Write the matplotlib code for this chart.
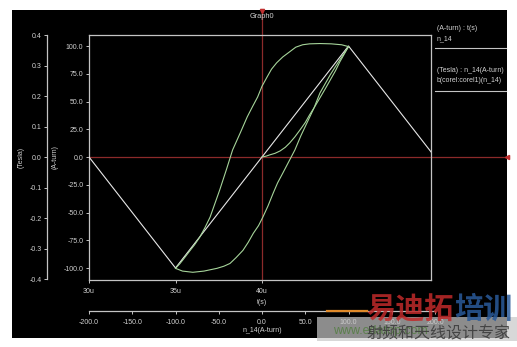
import matplotlib
matplotlib.use("Agg")
import matplotlib.pyplot as plt
from matplotlib.patches import Rectangle
from matplotlib.lines import Line2D

# ---------------- data ----------------
t_us = [30, 35, 45, 50]
aturn = [0, -100, 100, 0]

init_h = [0, 5, 9, 15, 21, 27, 32, 38, 44, 50, 55, 61, 67, 73, 79, 85, 90, 95, 100]
init_b = [0, 0.003, 0.007, 0.012, 0.02, 0.032, 0.046, 0.066, 0.089, 0.113, 0.138,
          0.165, 0.194, 0.223, 0.253, 0.283, 0.312, 0.337, 0.362]

desc_h = [100, 92, 80, 67, 55, 47, 39, 32, 24, 17, 11, 6, 0, -5, -11, -17, -25, -34,
          -41, -49, -55, -60, -66, -72, -78, -83, -90, -95, -100]
desc_b = [0.362, 0.368, 0.371, 0.372, 0.371, 0.368, 0.36, 0.345, 0.328, 0.309, 0.288,
          0.263, 0.232, 0.197, 0.165, 0.132, 0.08, 0.023, -0.04, -0.109, -0.157, -0.197,
          -0.232, -0.263, -0.288, -0.306, -0.332, -0.35, -0.365]

asc_h = [-100, -92, -80, -67, -52, -44, -37, -30, -22, -16, -10, -4, 1, 7, 13, 18, 24,
         31, 38, 45, 52, 60, 67, 73, 79, 85, 90, 95, 100]
asc_b = [-0.365, -0.374, -0.378, -0.374, -0.365, -0.358, -0.349, -0.33, -0.306, -0.28,
         -0.25, -0.225, -0.197, -0.16, -0.118, -0.085, -0.053, -0.015, 0.023, 0.07,
         0.112, 0.16, 0.21, 0.24, 0.27, 0.297, 0.319, 0.34, 0.362]

t_ticks = [30, 35, 40]
t_labels = ["30u", "35u", "40u"]
a_ticks = [100, 75, 50, 25, 0, -25, -50, -75, -100]
a_labels = ["100.0", "75.0", "50.0", "25.0", "0.0", "-25.0", "-50.0", "-75.0", "-100.0"]
b_ticks = [0.4, 0.3, 0.2, 0.1, 0.0, -0.1, -0.2, -0.3, -0.4]
b_labels = ["0.4", "0.3", "0.2", "0.1", "0.0", "-0.1", "-0.2", "-0.3", "-0.4"]
h_ticks = [-200, -150, -100, -50, 0, 50, 100, 150, 200]
h_labels = ["-200.0", "-150.0", "-100.0", "-50.0", "0.0", "50.0", "100.0", "150.0", "200.0"]

# ---------------- style ----------------
W, H = 517, 347
plt.rcParams['font.family'] = ['Liberation Sans', 'DejaVu Sans']
TXT = '#d2d2d2'
SP = '#c4c4c4'
RED = '#8c2a2a'
GRN = '#a6d49a'
WHT = '#e8e8e8'
FS = 5.0

def fx(x):
    return x / W

def fy(y):
    return 1 - y / H

fig = plt.figure(figsize=(W / 100, H / 100), dpi=100)
fig.patch.set_facecolor('white')
fig.add_artist(Rectangle((fx(12), fy(338)), (507 - 12) / W, (338 - 10) / H,
                         transform=fig.transFigure, facecolor='black',
                         edgecolor='none', zorder=-10))

# main axes: A-turn vs t
ax = fig.add_axes([fx(89), fy(280), (431 - 89) / W, (280 - 35) / H])
ax.set_facecolor('none')
ax.set_xlim(30, 30 + 342 / 17.3)
ax.set_ylim(-123 / 1.11, 122 / 1.11)
for s in ax.spines.values():
    s.set_color(SP)
    s.set_linewidth(0.9)
ax.set_xticks(t_ticks, t_labels)
ax.set_yticks(a_ticks, a_labels)
ax.tick_params(colors=SP, labelcolor=TXT, labelsize=FS, length=2.5, width=0.7,
               direction='out', pad=1.5)
ax.tick_params(axis='x', pad=3)
ax.plot(t_us, aturn, color=WHT, lw=0.8, zorder=3)

# red crosshair
ax.axhline(0, xmin=0, xmax=(507 - 89) / 342, color=RED, lw=0.9, clip_on=False, zorder=2)
ax.axvline(40, ymin=0, ymax=(280 - 10) / 245, color=RED, lw=0.9, clip_on=False, zorder=2)

# second axes: Tesla vs n_14
ax2 = fig.add_axes([fx(89), fy(280), (435 - 89) / W, (280 - 35) / H])
ax2.set_facecolor('none')
ax2.set_xlim(-200, 200)
ax2.set_ylim(-123 / 305, 122 / 305)
for k in ['top', 'right']:
    ax2.spines[k].set_visible(False)
ax2.spines['left'].set_position(('outward', 42 * 0.72))
ax2.spines['bottom'].set_position(('outward', 31 * 0.72))
ax2.spines['left'].set_bounds(-0.4, 0.4)
ax2.spines['bottom'].set_bounds(-200, 200)
for k in ['left', 'bottom']:
    ax2.spines[k].set_color(SP)
    ax2.spines[k].set_linewidth(0.9)
ax2.set_xticks(h_ticks, h_labels)
ax2.set_yticks(b_ticks, b_labels)
ax2.tick_params(colors=SP, labelcolor=TXT, labelsize=FS, length=2.5, width=0.7,
                direction='out', pad=1.5)
ax2.tick_params(axis='x', pad=3)
ax2.plot(init_h, init_b, color=GRN, lw=0.8)
ax2.plot(desc_h, desc_b, color=GRN, lw=0.8)
ax2.plot(asc_h, asc_b, color=GRN, lw=0.8)

# labels
fig.text(fx(262), fy(302), "t(s)", color=TXT, fontsize=FS, ha='center', va='center')
fig.text(fx(262), fy(331), "n_14(A-turn)", color=TXT, fontsize=FS, ha='center', va='center')
fig.text(fx(21), fy(157), "(Tesla)", color=TXT, fontsize=FS, ha='center', va='center', rotation=90)
fig.text(fx(55), fy(157), "(A-turn)", color=TXT, fontsize=FS, ha='center', va='center', rotation=90)
fig.text(fx(262), fy(17), "Graph0", color=TXT, fontsize=5.3, ha='center', va='center')

# crosshair markers
fig.add_artist(Line2D([fx(262)], [fy(11)], marker='v', markersize=3, color='#c03030',
                      transform=fig.transFigure, linestyle='none'))
fig.add_artist(Line2D([fx(507)], [fy(157)], marker='<', markersize=3, color='#c03030',
                      transform=fig.transFigure, linestyle='none'))

# legend panel
fig.text(fx(437), fy(28), "(A-turn) : t(s)", color=TXT, fontsize=FS, ha='left', va='center')
fig.text(fx(437), fy(39), "n_14", color=TXT, fontsize=FS, ha='left', va='center')
fig.add_artist(Line2D([fx(435), fx(506)], [fy(48), fy(48)], color=SP, lw=0.8,
                      transform=fig.transFigure))
fig.text(fx(437), fy(71), "(Tesla) : n_14(A-turn)", color=TXT, fontsize=FS, ha='left', va='center')
fig.text(fx(437), fy(81), "b(corel:corel1)(n_14)", color=TXT, fontsize=FS, ha='left', va='center')
fig.add_artist(Line2D([fx(435), fx(506)], [fy(91), fy(91)], color=SP, lw=0.8,
                      transform=fig.transFigure))

# watermark
cjk = ['Noto Sans CJK SC', 'DejaVu Sans']
fig.add_artist(Line2D([fx(327), fx(367)], [fy(311), fy(311)], color='#e08a2a', lw=1.6,
                      transform=fig.transFigure, zorder=9))
fig.add_artist(Rectangle((fx(317), fy(341)), (517 - 317) / W, (341 - 317) / H,
                         transform=fig.transFigure, facecolor='#c8c8c8',
                         edgecolor='none', alpha=0.7, zorder=9))
fig.text(fx(333), fy(331), "www.edatop.com", color='#4f7d3c', fontsize=9,
         ha='left', va='center', zorder=10, alpha=0.8)
fig.text(fx(438), fy(334), "射频和天线设计专家", color='#3c3c3c', fontsize=11.5,
         family=cjk, ha='center', va='center', zorder=11, alpha=0.9)
fig.text(fx(454), fy(309), "易迪拓", color='#c02a2a', fontsize=21, family=cjk,
         ha='right', va='center', zorder=11, alpha=0.85, fontweight='bold')
fig.text(fx(454), fy(309), "培训", color='#2a5a9a', fontsize=21, family=cjk,
         ha='left', va='center', zorder=11, alpha=0.85, fontweight='bold')

fig.savefig("out.png", dpi=100, facecolor=fig.get_facecolor())
